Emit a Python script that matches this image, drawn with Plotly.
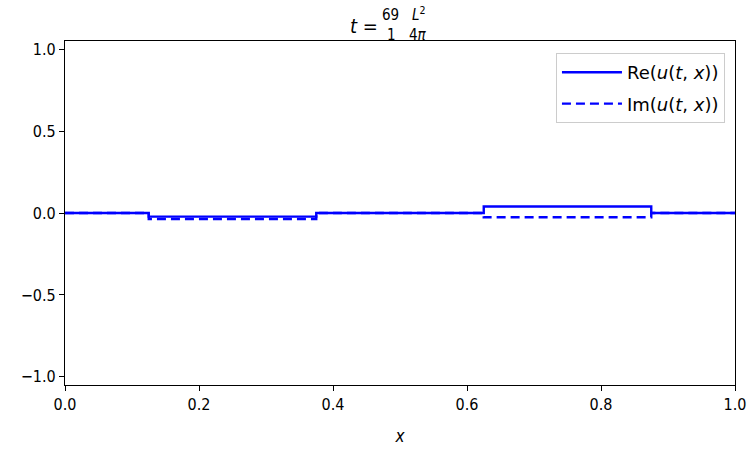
import plotly.graph_objects as go

# step breakpoints (x) and values of the piecewise-constant solution
x_edges = [0.0, 0.125, 0.375, 0.625, 0.875, 1.0]
re_vals = [0.0, -0.022, 0.0, 0.040, 0.0, 0.0]
im_vals = [0.0, -0.037, 0.0, -0.026, 0.0, 0.0]

xticks = [0.0, 0.2, 0.4, 0.6, 0.8, 1.0]
yticks = [-1.0, -0.5, 0.0, 0.5, 1.0]

FONT = "DejaVu Sans Condensed, DejaVu Sans"
BLUE = "#0000ff"

fig = go.Figure()
fig.add_trace(go.Scatter(
    x=x_edges, y=re_vals, mode="lines", line_shape="hv",
    line=dict(color=BLUE, width=2.4), legendgroup="re",
    name="Re(<i>u</i>(<i>t</i>, <i>x</i>))"))
fig.add_trace(go.Scatter(
    x=x_edges, y=im_vals, mode="lines", line_shape="hv",
    line=dict(color=BLUE, width=2.4, dash="9px,5px"), legendgroup="im",
    name="Im(<i>u</i>(<i>t</i>, <i>x</i>))"))

axis_common = dict(showline=True, linecolor="black", linewidth=1.2, mirror=True,
                   ticks="outside", ticklen=5, tickwidth=1.2, tickcolor="black",
                   showgrid=False, zeroline=False, automargin=False,
                   tickfont=dict(family=FONT, size=16, color="black"))

fig.update_xaxes(range=[0, 1], tickvals=xticks, tickformat=".1f",
                 title=dict(text="<i>x</i>", font=dict(family=FONT, size=17, color="black"), standoff=16),
                 **axis_common)
fig.update_yaxes(range=[-1.05, 1.05], tickvals=yticks, tickformat=".1f", **axis_common)

fig.update_layout(
    width=750, height=450,
    margin=dict(l=65, r=15, t=41, b=65),
    plot_bgcolor="white", paper_bgcolor="white",
    font=dict(family=FONT, size=16, color="black"),
    showlegend=True,
    legend=dict(x=0.985, y=0.965, xanchor="right", yanchor="top",
                bordercolor="#cccccc", borderwidth=1, bgcolor="white",
                font=dict(family="DejaVu Sans", size=18, color="black"),
                itemwidth=60,
                traceorder="grouped", tracegroupgap=5),
)

# title as stacked fractions, positions in figure pixels converted to paper coords
tfont = dict(family=FONT, size=20, color="black")
sfont = dict(family=FONT, size=15, color="black")
title_parts = [
    ("<i>t</i> =", 364, 26, tfont),
    ("69", 390, 15, sfont),
    ("1", 391, 35, sfont),
    ("<i>L</i><sup>2</sup>", 419, 14, sfont),
    ("4<i>π</i>", 418, 35, sfont),
]
pw, ph = 750 - 65 - 15, 450 - 41 - 65
fig.layout.annotations = [
    dict(text=t, x=(px - 65) / pw, y=(385 - py) / ph,
         xref="paper", yref="paper", xanchor="center", yanchor="middle",
         showarrow=False, font=f)
    for t, px, py, f in title_parts
]

fig.write_html("out.html")
